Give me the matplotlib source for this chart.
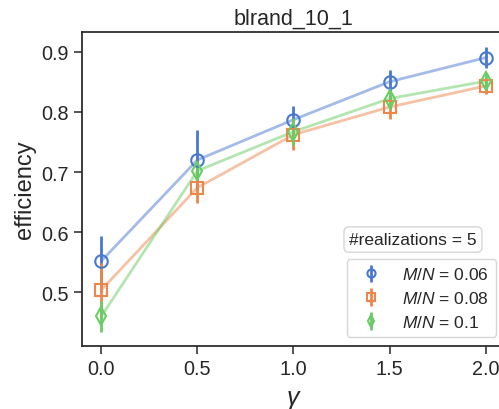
import matplotlib
matplotlib.use("Agg")
import matplotlib.pyplot as plt
import seaborn as sns
import numpy as np

sns.set_theme(style="ticks")
plt.rcParams['font.family'] = ['Liberation Sans', 'DejaVu Sans']
plt.rcParams['mathtext.fontset'] = 'custom'
plt.rcParams['mathtext.rm'] = 'Liberation Sans'
plt.rcParams['mathtext.it'] = 'Liberation Sans:italic'
plt.rcParams['mathtext.sf'] = 'Liberation Sans'

gamma = [0.0, 0.5, 1.0, 1.5, 2.0]
labels = ["$M/N$ = 0.06", "$M/N$ = 0.08", "$M/N$ = 0.1"]
eff_006 = [0.552, 0.720, 0.787, 0.850, 0.890]
err_006 = [0.042, 0.050, 0.023, 0.019, 0.017]
eff_008 = [0.504, 0.674, 0.762, 0.808, 0.843]
err_008 = [0.045, 0.025, 0.025, 0.020, 0.014]
eff_01 = [0.460, 0.702, 0.767, 0.822, 0.851]
err_01 = [0.026, 0.015, 0.022, 0.018, 0.013]
n_realizations = 5

series = [(eff_006, err_006, "o"), (eff_008, err_008, "s"), (eff_01, err_01, "d")]
colors = sns.color_palette("muted")

fig = plt.figure(figsize=(4.99, 4.10), dpi=100)
ax = fig.add_axes([0.1643, 0.1537, 0.8477, 0.7658])

handles = []
for (y, e, m), lab, c in zip(series, labels, colors):
    ax.plot(gamma, y, color=c, alpha=0.5, lw=2, zorder=1)
    h = ax.errorbar(gamma, y, yerr=e, fmt=m, mfc="none", mec=c, ecolor=c,
                    color=c, ms=9, mew=1.5, elinewidth=2, capsize=0,
                    label=lab, zorder=2)
    handles.append(h)

ax.set_xlim(-0.1, 2.1)
ax.set_ylim(0.411, 0.9326)
ax.set_xticks([0.0, 0.5, 1.0, 1.5, 2.0])
ax.set_yticks([0.5, 0.6, 0.7, 0.8, 0.9])
ax.tick_params(labelsize=14.3, length=6, width=1.1, colors="#262626")
ax.set_xlabel(r"$\gamma$", fontsize=18, labelpad=6)
ax.set_ylabel("efficiency", fontsize=17)
ax.set_title("blrand_10_1", fontsize=15.5)

leg = ax.legend(handles=handles, loc="lower right", fontsize=12.5,
                bbox_to_anchor=(0.9787, 0.0287), borderaxespad=0,
                markerscale=0.65, labelspacing=0.45)
ax.text(0.7825, 0.339, f"#realizations = {n_realizations}", fontsize=12.5,
        transform=ax.transAxes, ha="center", va="center", color="#262626",
        bbox=dict(boxstyle="round,pad=0.3", fc="white", ec="0.8", alpha=0.8))

fig.savefig("out.png", dpi=100)
